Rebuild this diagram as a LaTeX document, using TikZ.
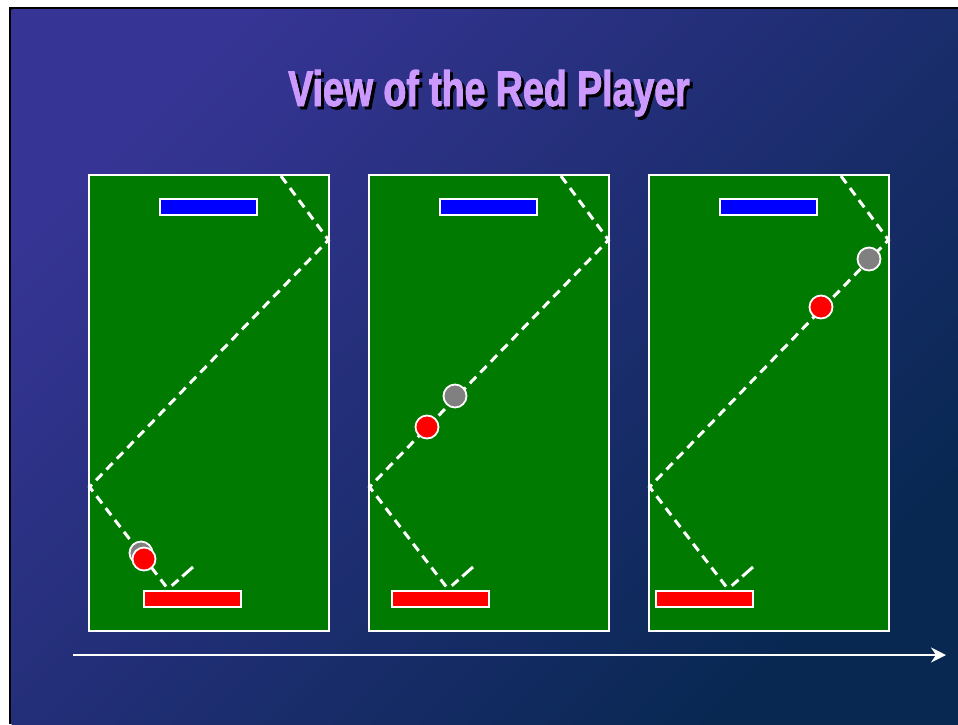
\documentclass[tikz,border=0pt]{standalone}
\usepackage{fontspec}
\usetikzlibrary{arrows.meta}
\newfontfamily\titlefont[FakeStretch=0.75,FakeBold=1.8]{Liberation Sans}
\definecolor{bgA}{RGB}{54,52,148}
\definecolor{bgB}{RGB}{8,40,82}
\definecolor{field}{RGB}{0,122,0}
\definecolor{lav}{RGB}{204,153,255}
\newcommand{\titleline}{View of the Red Player}
\tikzset{
  panel/.style={draw=white, line width=2pt, fill=field, minimum width=240pt, minimum height=456pt, inner sep=0pt, outer sep=0pt},
  paddle/.style={draw=white, line width=2.4pt, minimum width=97pt, minimum height=16pt, inner sep=0pt},
  bluepad/.style={paddle, fill=blue},
  redpad/.style={paddle, fill=red},
  ball/.style={circle, draw=white, line width=1.8pt, minimum size=23pt, inner sep=0pt},
  redball/.style={ball, fill=red},
  grayball/.style={ball, fill={rgb,255:red,128;green,128;blue,128}},
  trail/.style={draw=white, line width=3pt, dash pattern=on 9pt off 6pt},
  lasttrail/.style={draw=white, line width=3pt, dash pattern=on 0pt off 5pt on 9pt off 5pt on 30pt},
  titletext/.style={font=\titlefont\bfseries\fontsize{50}{56}\selectfont, anchor=base, inner sep=0pt}
}
\begin{document}
\begin{tikzpicture}[x=1pt,y=-1pt]
\useasboundingbox (0,0) rectangle (958,724);
\fill[white] (0,0) rectangle (958,724);
\fill[black] (9,7) rectangle (958,724);
\shade[top color=bgA, bottom color=bgB, shading angle=45] (11.5,9.5) rectangle (958,724);
% title with drop shadow
\node[titletext, text=lav] (title) at (489,106)
  {\makebox[0pt][l]{\hspace{3pt}\raisebox{-3pt}{\color{black}\titleline}}\titleline};
% panels
\foreach \i/\ox/\rx in {1/0/144, 2/280/392, 3/560/656}{
  \node[panel] (p\i) at (209+\ox,403) {};
  \coordinate (t\i a) at (281+\ox,176);
  \coordinate (t\i b) at (328.5+\ox,240);
  \coordinate (t\i c) at (89.5+\ox,487);
  \coordinate (t\i d) at (168+\ox,589);
  \coordinate (t\i e) at (193+\ox,567);
  \draw[trail] (t\i a) -- (t\i b) -- (t\i c) -- (t\i d);
  \draw[lasttrail] (t\i d) -- (t\i e);
  \node[bluepad] (blue\i) at (208.5+\ox,207) {};
  \node[redpad] (red\i) at (\rx+48.5,599) {};
}
\node[grayball] (g1) at (141,553) {};
\node[redball] (r1) at (144,559) {};
\node[grayball] (g2) at (455,396) {};
\node[redball] (r2) at (427,427) {};
\node[grayball] (g3) at (869,259) {};
\node[redball] (r3) at (821,307) {};
% time arrow
\coordinate (arrS) at (73,655);
\coordinate (arrE) at (946,655);
\draw[white, line width=2.8pt, -{Stealth[length=15pt,width=15pt,inset=5pt]}] (arrS) -- (arrE);
\end{tikzpicture}
\end{document}
